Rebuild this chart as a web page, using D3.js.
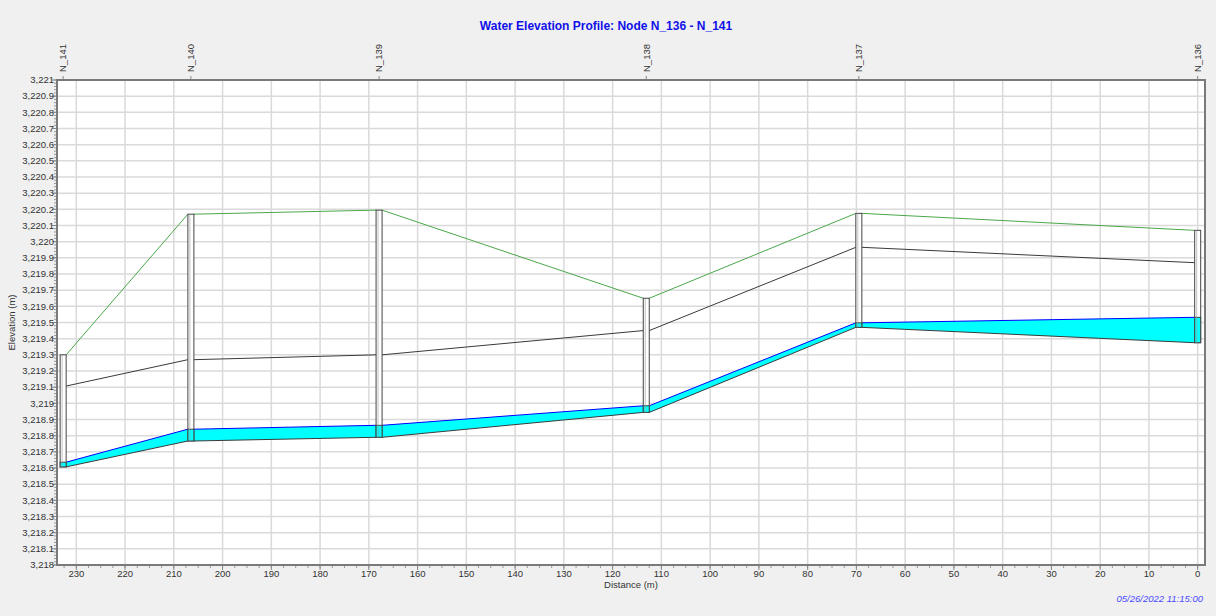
<!DOCTYPE html>
<head>
  <meta charset="utf-8">
  <script src="https://d3js.org/d3.v7.min.js"></script>
  <style>
    body { margin: 0; background: #f0f0f0; }
    text { font-family: "Liberation Sans", Arial, sans-serif; }
  </style>
</head>
<body>
<script>

  // profile data (upstream N_141 -> downstream N_136)
  var nodeNames = ["N_141", "N_140", "N_139", "N_138", "N_137", "N_136"];
  var nodeDistance = [232.7, 206.5, 167.9, 113.1, 69.5, 0];
  var groundElev = [3219.30, 3220.17, 3220.195, 3219.65, 3220.175, 3220.07];
  var crownElev = [3219.107, 3219.27, 3219.30, 3219.45, 3219.965, 3219.87];
  var invertElev = [3218.607, 3218.767, 3218.79, 3218.944, 3219.47, 3219.375];
  var waterElev = [3218.636, 3218.84, 3218.864, 3218.985, 3219.498, 3219.532];

  var xTickValues = [230, 220, 210, 200, 190, 180, 170, 160, 150, 140, 130, 120, 110, 100, 90, 80, 70, 60, 50, 40, 30, 20, 10, 0];
  var yDomain = [3218, 3221];
  var xDomain = [233.96, -1.5];

  var width = 1216, height = 616;
  var margin = {top: 80, right: 11, bottom: 51, left: 57};

  var svg = d3.select("body").append("svg")
      .attr("width", width)
      .attr("height", height);

  var x = d3.scaleLinear()
      .domain(xDomain)
      .range([margin.left, width - margin.right]);

  var y = d3.scaleLinear()
      .domain(yDomain)
      .range([height - margin.bottom, margin.top]);

  var x0 = x.range()[0], x1 = x.range()[1];
  var y0 = y.range()[1], y1 = y.range()[0];

  // plot background
  svg.append("rect")
      .attr("x", x0).attr("y", y0)
      .attr("width", x1 - x0).attr("height", y1 - y0)
      .attr("fill", "#fff");

  var yTicks = d3.ticks(yDomain[0], yDomain[1], 30);
  var yMinor = d3.ticks(yDomain[0], yDomain[1], 150);
  var xMinor = d3.range(0, 232.6, 2.5);

  // grid
  svg.append("g").selectAll("line")
    .data(xTickValues)
    .enter().append("line")
      .attr("x1", function(d) { return x(d); })
      .attr("x2", function(d) { return x(d); })
      .attr("y1", y0).attr("y2", y1)
      .attr("stroke", "#dadada")
      .attr("stroke-width", 1.5);

  svg.append("g").selectAll("line")
    .data(yTicks)
    .enter().append("line")
      .attr("x1", x0).attr("x2", x1)
      .attr("y1", function(d) { return y(d); })
      .attr("y2", function(d) { return y(d); })
      .attr("stroke", "#dadada")
      .attr("stroke-width", 1.5);

  var n = nodeNames.length;
  var hw = 3; // half width of node box
  var links = d3.range(n - 1);

  // ground line
  svg.append("g").selectAll("line")
    .data(links)
    .enter().append("line")
      .attr("x1", function(i) { return x(nodeDistance[i]) + hw; })
      .attr("y1", function(i) { return y(groundElev[i]); })
      .attr("x2", function(i) { return x(nodeDistance[i + 1]) - hw; })
      .attr("y2", function(i) { return y(groundElev[i + 1]); })
      .attr("stroke", "#4aa84a")
      .attr("stroke-width", 1);

  // water in the pipes
  svg.append("g").selectAll("path")
    .data(links)
    .enter().append("path")
      .attr("d", function(i) {
        var xa = x(nodeDistance[i]) + hw, xb = x(nodeDistance[i + 1]) - hw;
        return "M" + xa + "," + y(waterElev[i]) + "L" + xb + "," + y(waterElev[i + 1]) +
          "L" + xb + "," + y(invertElev[i + 1]) + "L" + xa + "," + y(invertElev[i]) + "Z";
      })
      .attr("fill", "#00ffff");

  var pipeLine = function(arr, color, w) {
    svg.append("g").selectAll("line")
      .data(links)
      .enter().append("line")
        .attr("x1", function(i) { return x(nodeDistance[i]) + hw; })
        .attr("y1", function(i) { return y(arr[i]); })
        .attr("x2", function(i) { return x(nodeDistance[i + 1]) - hw; })
        .attr("y2", function(i) { return y(arr[i + 1]); })
        .attr("stroke", color)
        .attr("stroke-width", w);
  };

  pipeLine(waterElev, "#0000ff", 1);
  pipeLine(invertElev, "#3a3a3a", 1);
  pipeLine(crownElev, "#3a3a3a", 1);

  // node boxes
  var nodeG = svg.append("g").selectAll("g")
    .data(d3.range(n))
    .enter().append("g");

  nodeG.append("rect")
      .attr("x", function(i) { return x(nodeDistance[i]) - hw; })
      .attr("y", function(i) { return y(groundElev[i]); })
      .attr("width", hw * 2)
      .attr("height", function(i) { return y(invertElev[i]) - y(groundElev[i]); })
      .attr("fill", "#fff")
      .attr("stroke", "#444")
      .attr("stroke-width", 1);

  nodeG.append("rect")
      .attr("x", function(i) { return x(nodeDistance[i]) - hw; })
      .attr("y", function(i) { return y(waterElev[i]); })
      .attr("width", hw * 2)
      .attr("height", function(i) { return y(invertElev[i]) - y(waterElev[i]); })
      .attr("fill", "#00ffff")
      .attr("stroke", "#444")
      .attr("stroke-width", 1);

  nodeG.append("line")
      .attr("x1", function(i) { return x(nodeDistance[i]) - hw + 2; })
      .attr("x2", function(i) { return x(nodeDistance[i]) - hw + 2; })
      .attr("y1", function(i) { return y(groundElev[i]); })
      .attr("y2", function(i) { return y(invertElev[i]); })
      .attr("stroke", "#999")
      .attr("stroke-width", 0.6);

  // frame
  svg.append("rect")
      .attr("x", x0).attr("y", y0)
      .attr("width", x1 - x0).attr("height", y1 - y0)
      .attr("fill", "none")
      .attr("stroke", "#7a7a7a")
      .attr("stroke-width", 2);

  // y axis ticks
  svg.append("g").selectAll("line")
    .data(yMinor)
    .enter().append("line")
      .attr("x1", x0 - 1).attr("x2", x0 - 3)
      .attr("y1", function(d) { return y(d); })
      .attr("y2", function(d) { return y(d); })
      .attr("stroke", "#999");

  svg.append("g").selectAll("line")
    .data(yTicks)
    .enter().append("line")
      .attr("x1", x0 - 1).attr("x2", x0 - 5)
      .attr("y1", function(d) { return y(d); })
      .attr("y2", function(d) { return y(d); })
      .attr("stroke", "#888");

  var fmt = d3.format(",");
  svg.append("g").selectAll("text")
    .data(yTicks)
    .enter().append("text")
      .attr("x", x0 - 3)
      .attr("y", function(d) { return y(d); })
      .attr("dy", "0.35em")
      .attr("text-anchor", "end")
      .attr("fill", "#333")
      .style("font-size", "9.5px")
      .text(function(d) { return fmt(d); });

  // x axis ticks
  svg.append("g").selectAll("line")
    .data(xMinor)
    .enter().append("line")
      .attr("x1", function(d) { return x(d); })
      .attr("x2", function(d) { return x(d); })
      .attr("y1", y1 + 1).attr("y2", y1 + 3)
      .attr("stroke", "#999");

  svg.append("g").selectAll("line")
    .data(xTickValues)
    .enter().append("line")
      .attr("x1", function(d) { return x(d); })
      .attr("x2", function(d) { return x(d); })
      .attr("y1", y1 + 1).attr("y2", y1 + 5)
      .attr("stroke", "#888");

  svg.append("g").selectAll("text")
    .data(xTickValues)
    .enter().append("text")
      .attr("x", function(d) { return x(d); })
      .attr("y", y1 + 9)
      .attr("dy", "0.35em")
      .attr("text-anchor", "middle")
      .attr("fill", "#333")
      .style("font-size", "9.5px")
      .text(function(d) { return d; });

  // node names along the top
  var topG = svg.append("g").selectAll("g")
    .data(d3.range(n))
    .enter().append("g")
      .attr("transform", function(i) { return "translate(" + x(nodeDistance[i]) + "," + y0 + ")"; });

  topG.append("line")
      .attr("y1", -1).attr("y2", -4)
      .attr("stroke", "#888");

  topG.append("text")
      .attr("transform", "translate(0,-8)rotate(-90)")
      .attr("dy", "0.35em")
      .attr("fill", "#333")
      .style("font-size", "9.5px")
      .text(function(i) { return nodeNames[i]; });

  // titles
  svg.append("text")
      .attr("x", (x0 + x1) / 2 - 25)
      .attr("y", 26)
      .attr("dy", "0.35em")
      .attr("text-anchor", "middle")
      .attr("fill", "#1010e8")
      .style("font-size", "12px")
      .style("font-weight", "bold")
      .text("Water Elevation Profile: Node N_136 - N_141");

  svg.append("text")
      .attr("x", (x0 + x1) / 2)
      .attr("y", 585)
      .attr("dy", "0.35em")
      .attr("text-anchor", "middle")
      .attr("fill", "#333")
      .style("font-size", "9.5px")
      .text("Distance (m)");

  svg.append("text")
      .attr("transform", "translate(12," + (y0 + y1) / 2 + ")rotate(-90)")
      .attr("dy", "0.35em")
      .attr("text-anchor", "middle")
      .attr("fill", "#333")
      .style("font-size", "9.5px")
      .text("Elevation (m)");

  svg.append("text")
      .attr("x", 1203)
      .attr("y", 599)
      .attr("dy", "0.35em")
      .attr("text-anchor", "end")
      .attr("fill", "#4a4aff")
      .style("font-size", "9.5px")
      .style("font-style", "italic")
      .text("05/26/2022 11:15:00");

</script>
</body>
